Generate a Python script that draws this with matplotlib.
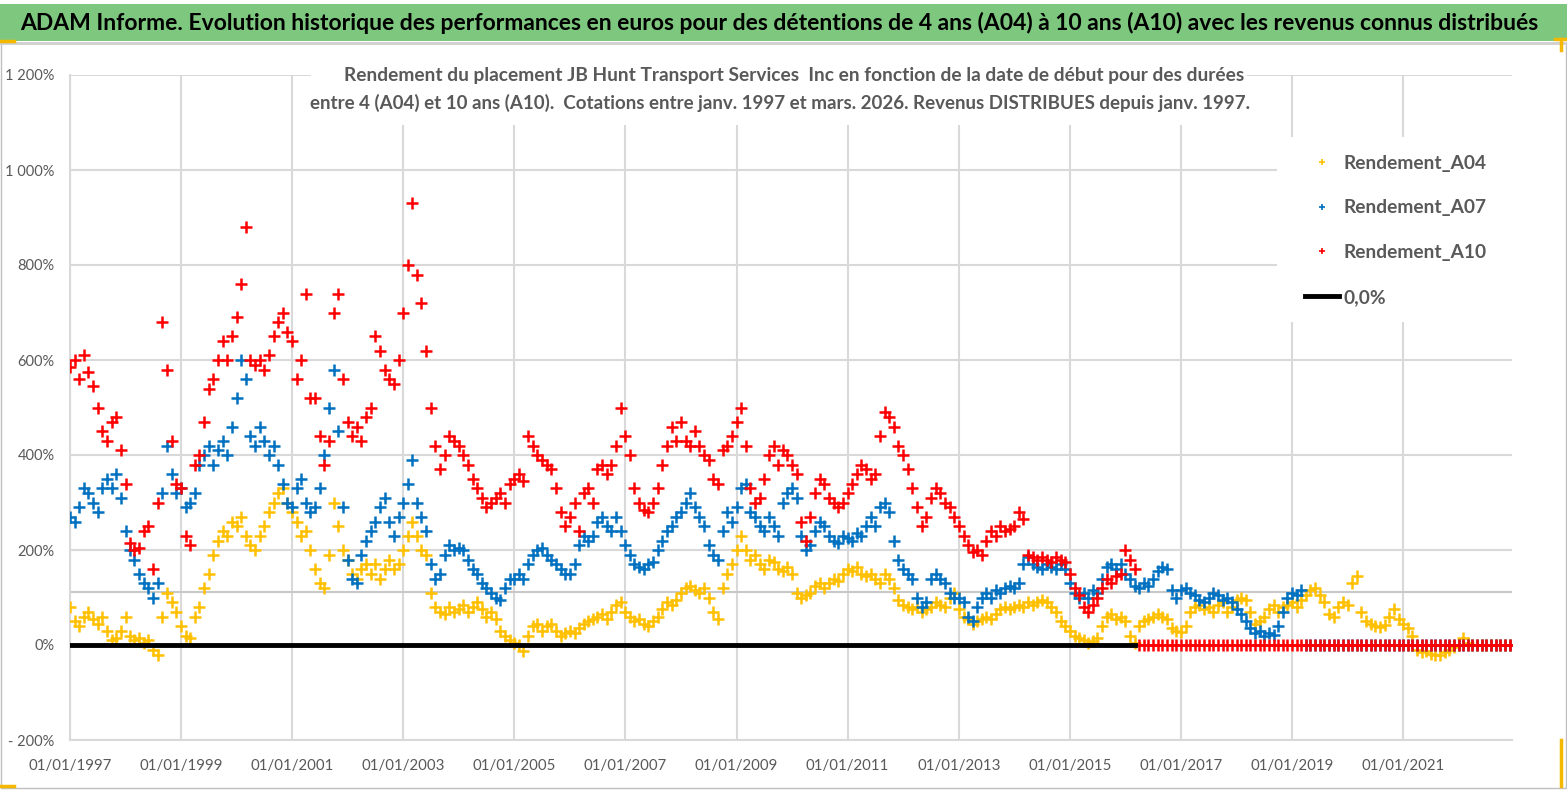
import matplotlib
matplotlib.use('Agg')
import matplotlib.pyplot as plt
import matplotlib.dates as mdates
from matplotlib.lines import Line2D
from matplotlib.patches import Rectangle
import numpy as np
import pandas as pd

# police humaniste proche de Calibri
FONT = ['Lato', 'DejaVu Sans']
plt.rcParams['font.family'] = FONT

# ---- donnees (valeurs mensuelles en %) ----
start_date = '1997-01-01'
n_months = 312

a10 = [585, 600, 560, 610, 575, 545, 500, 450, 430, 470, 480, 410,
       340, 215, 200, 205, 240, 250, 160, 300, 680, 580, 430, 340,
       330, 230, 210, 380, 400, 470, 540, 560, 600, 640, 600, 650,
       690, 760, 880, 600, 590, 600, 580, 610, 650, 680, 700, 660,
       640, 560, 600, 740, 520, 520, 440, 380, 430, 700, 740, 560,
       470, 440, 460, 430, 480, 500, 650, 620, 580, 560, 550, 600,
       700, 800, 930, 780, 720, 620, 500, 420, 370, 400, 440, 430,
       420, 400, 380, 350, 330, 310, 290, 300, 310, 320, 300, 340,
       350, 360, 345, 440, 420, 400, 390, 380, 370, 330, 280, 250,
       270, 300, 240, 320, 330, 300, 370, 380, 360, 380, 420, 500,
       440, 400, 330, 300, 285, 280, 300, 330, 380, 420, 460, 430,
       470, 430, 420, 450, 420, 400, 390, 350, 340, 410, 420, 440,
       470, 500, 420, 330, 300, 310, 350, 400, 420, 380, 410, 400,
       380, 360, 260, 220, 270, 320, 350, 340, 310, 300, 290, 300,
       320, 340, 360, 380, 370, 350, 360, 440, 490, 480, 460, 420,
       400, 370, 330, 290, 250, 270, 310, 330, 320, 300, 290, 270,
       250, 230, 210, 195, 200, 190, 220, 240, 230, 250, 240, 245,
       250, 280, 265, 190, 185, 180, 185, 180, 175, 185, 180, 175,
       150, 120, 105, 80, 70, 85, 100, 120, 140, 130, 145, 150,
       200, 180, 160]

a07 = [270, 260, 290, 330, 320, 300, 280, 330, 350, 330, 360, 310,
       240, 200, 180, 150, 130, 120, 100, 130, 320, 420, 360, 320,
       330, 290, 300, 320, 380, 400, 420, 380, 410, 430, 400, 460,
       520, 600, 560, 440, 420, 460, 430, 400, 420, 380, 340, 300,
       290, 330, 350, 300, 280, 290, 330, 400, 500, 580, 450, 290,
       180, 140, 130, 190, 220, 240, 260, 290, 310, 260, 230, 270,
       300, 340, 390, 300, 270, 240, 170, 140, 150, 190, 210, 200,
       205, 200, 180, 160, 150, 130, 120, 110, 100, 95, 120, 140,
       140, 150, 140, 170, 190, 200, 205, 190, 180, 170, 160, 150,
       150, 170, 210, 230, 220, 230, 260, 270, 250, 240, 270, 240,
       210, 190, 170, 165, 160, 170, 175, 200, 220, 240, 250, 270,
       280, 300, 320, 290, 270, 250, 210, 190, 180, 240, 280, 260,
       290, 330, 340, 280, 270, 250, 240, 270, 250, 230, 300, 320,
       330, 310, 230, 200, 210, 240, 260, 250, 230, 220, 215, 230,
       225, 220, 235, 230, 250, 270, 250, 290, 300, 280, 220, 180,
       160, 150, 140, 100, 80, 90, 140, 150, 140, 130, 110, 100,
       100, 90, 60, 50, 80, 100, 110, 100, 115, 110, 120, 125,
       120, 130, 170, 185, 170, 165, 160, 170, 165, 160, 170, 160,
       130, 110, 100, 110, 100, 115, 110, 140, 165, 170, 160, 170,
       150, 140, 125, 120, 130, 125, 140, 155, 165, 160, 115, 100,
       115, 120, 110, 105, 95, 90, 100, 110, 105, 95, 100, 90,
       75, 65, 50, 35, 25, 30, 20, 25, 22, 40, 70, 100,
       110, 105, 115]

a04 = [80, 50, 40, 60, 70, 55, 45, 60, 30, 10, 15, 30,
       60, 20, 10, 15, 5, 10, -10, -20, 60, 110, 90, 70,
       40, 20, 15, 60, 80, 120, 150, 190, 220, 240, 230, 260,
       250, 270, 230, 210, 200, 230, 250, 280, 300, 320, 330, 300,
       280, 260, 230, 240, 200, 160, 130, 120, 190, 300, 250, 200,
       180, 150, 140, 160, 170, 150, 170, 140, 160, 180, 160, 170,
       200, 230, 260, 230, 200, 190, 110, 80, 70, 65, 80, 70,
       75, 85, 70, 80, 90, 75, 60, 70, 55, 30, 20, 10,
       5, 0, -12, 20, 40, 45, 30, 40, 45, 30, 20, 25,
       30, 25, 35, 45, 50, 55, 60, 65, 55, 70, 85, 90,
       70, 60, 50, 55, 45, 40, 50, 60, 75, 90, 85, 95,
       110, 120, 125, 115, 110, 120, 100, 70, 55, 120, 150, 170,
       200, 230, 200, 180, 190, 170, 160, 180, 175, 160, 155, 165,
       150, 110, 100, 105, 110, 125, 130, 120, 130, 140, 135, 150,
       160, 155, 165, 150, 145, 150, 140, 130, 150, 140, 120, 95,
       85, 80, 75, 80, 70, 75, 80, 90, 85, 80, 100, 110,
       75, 60, 55, 45, 50, 55, 60, 55, 65, 75, 80, 75,
       80, 85, 80, 90, 85, 90, 95, 90, 80, 70, 50, 40,
       30, 20, 15, 10, 5, 8, 15, 40, 60, 65, 55, 60,
       50, 20, 5, 40, 50, 55, 60, 65, 60, 55, 35, 30,
       28, 40, 70, 80, 85, 75, 80, 70, 85, 90, 70, 80,
       95, 100, 95, 70, 45, 50, 60, 75, 85, 70, 80, 85,
       90, 80, 95, 105, 115, 120, 105, 90, 65, 60, 80, 90,
       85, 130, 145, 70, 50, 45, 40, 38, 42, 60, 75, 55,
       45, 35, 20, -10, -15, -12, -18, -20, -22, -15, -10, -5,
       0, 15, 5]

ref_line = 112  # trait gris horizontal vers 112 %

series_names = ['Rendement_A04', 'Rendement_A07', 'Rendement_A10']
series_colors = ['#FFC000', '#0070C0', '#FF0000']
zero_label = '0,0%'

x_tick_years = list(range(1997, 2022, 2))
y_ticks = [-200, 0, 200, 400, 600, 800, 1000, 1200]
y_labels = ['- 200%', '0%', '200%', '400%', '600%', '800%', '1 000%', '1 200%']

title = ("ADAM Informe. Evolution historique des performances en euros pour des "
         "détentions de 4 ans (A04) à 10 ans (A10) avec les revenus connus distribués")
subtitle1 = ("Rendement du placement JB Hunt Transport Services  Inc en fonction "
             "de la date de début pour des durées")
subtitle2 = ("entre 4 (A04) et 10 ans (A10).  Cotations entre janv. 1997 et mars. 2026. "
             "Revenus DISTRIBUES depuis janv. 1997.")

# ---- preparation ----
dates = pd.date_range(start_date, periods=n_months, freq='MS')


def pad(vals):
    # apres la fin de la duree de detention, la serie vaut 0
    return np.array(vals + [0] * (len(dates) - len(vals)), dtype=float)


values = [pad(a04), pad(a07), pad(a10)]

W, H = 1567, 790
GRID = '#D9D9D9'
TXT = '#595959'


def fx(px):
    return px / W


def fy(py):
    return 1 - py / H


fig = plt.figure(figsize=(W / 100, H / 100), dpi=100)

# cadre, bandeau vert (derriere les axes)
fig.add_artist(Rectangle((fx(1), fy(788)), fx(1565), (788 - 43) / H, transform=fig.transFigure,
                         facecolor='white', edgecolor='#BFBFBF', lw=1, zorder=-5))
fig.add_artist(Rectangle((0, fy(41)), 1, 37 / H, transform=fig.transFigure,
                         facecolor='#7DC87E', edgecolor='none', zorder=-5))
fig.add_artist(Line2D([0, 1], [fy(42.5), fy(42.5)], transform=fig.transFigure,
                      color='#D0D0D0', lw=2, zorder=-5))
# petites marques orange de selection
for xs, ys in [([0, 14], [41, 41]), ([1555, 1567], [39, 39]), ([1561, 1561], [39, 50]),
               ([0, 14], [786, 786]), ([1561, 1561], [740, 786])]:
    fig.add_artist(Line2D([fx(xs[0]), fx(xs[1])], [fy(ys[0]), fy(ys[1])],
                          transform=fig.transFigure, color='#F5B800', lw=2.5, zorder=-4))

fig.text(fx(779), fy(23), title, ha='center', va='center', fontsize=16.5,
         fontweight='bold', color='black')

ax = fig.add_axes([fx(70), fy(740), fx(1512) - fx(70), fy(75) - fy(740)])
ax.set_axisbelow(True)
ax.patch.set_alpha(0)

for vals, col in zip(values, series_colors):
    ax.plot(dates, vals, linestyle='none', marker='+', markersize=8,
            markeredgewidth=1.8, color=col, zorder=3)

# ligne 0,0% sur la periode de la serie A10
ax.plot(dates[:len(a10)], np.zeros(len(a10)), color='black', lw=3.5, zorder=4)

ax.axhline(ref_line, color='#C8C8C8', lw=1.5, zorder=0.6)

ax.set_ylim(-200, 1200)
ax.set_xlim(pd.Timestamp('1997-01-01'), pd.Timestamp('2022-12-17'))
ax.set_yticks(y_ticks)
ax.set_yticklabels(y_labels)
ax.set_xticks([pd.Timestamp(f'{y}-01-01') for y in x_tick_years])
ax.xaxis.set_major_formatter(mdates.DateFormatter('%d/%m/%Y'))
ax.tick_params(length=0, colors=TXT)
ax.tick_params(axis='x', pad=14, labelsize=10.8)
ax.tick_params(axis='y', pad=11, labelsize=10.5)
ax.grid(True, color=GRID, lw=1.5)
for s in ['top', 'right']:
    ax.spines[s].set_visible(False)
for s in ['left', 'bottom']:
    ax.spines[s].set_color(GRID)
    ax.spines[s].set_linewidth(1.5)

# boite blanche du sous-titre
ax.add_patch(Rectangle((fx(311), fy(125)), fx(1247) - fx(311), (125 - 55) / H,
                       transform=fig.transFigure, facecolor='white', edgecolor='none',
                       zorder=1, clip_on=False))
fig.text(fx(794), fy(75), subtitle1, ha='center', va='center', fontsize=13.8,
         fontweight='bold', color=TXT)
fig.text(fx(780), fy(103), subtitle2, ha='center', va='center', fontsize=13.5,
         fontweight='bold', color=TXT)

# legende
ax.add_patch(Rectangle((fx(1277), fy(322)), fx(1512) - fx(1277), (322 - 137) / H,
                       transform=fig.transFigure, facecolor='white', edgecolor='none',
                       zorder=1, clip_on=False))
handles = [Line2D([], [], linestyle='none', marker='+', markersize=5,
                  markeredgewidth=1.2, color=c) for c in series_colors]
handles.append(Line2D([], [], color='black', lw=3.5))
leg = ax.legend(handles, series_names + [zero_label], loc='upper left',
                bbox_to_anchor=(fx(1295), fy(145)), bbox_transform=fig.transFigure,
                frameon=False, fontsize=13.8, labelspacing=1.45, handlelength=1.8,
                handletextpad=0.25, borderpad=0)
for t in leg.get_texts():
    t.set_color(TXT)
    t.set_fontweight('bold')

fig.savefig('out.png', dpi=100)
